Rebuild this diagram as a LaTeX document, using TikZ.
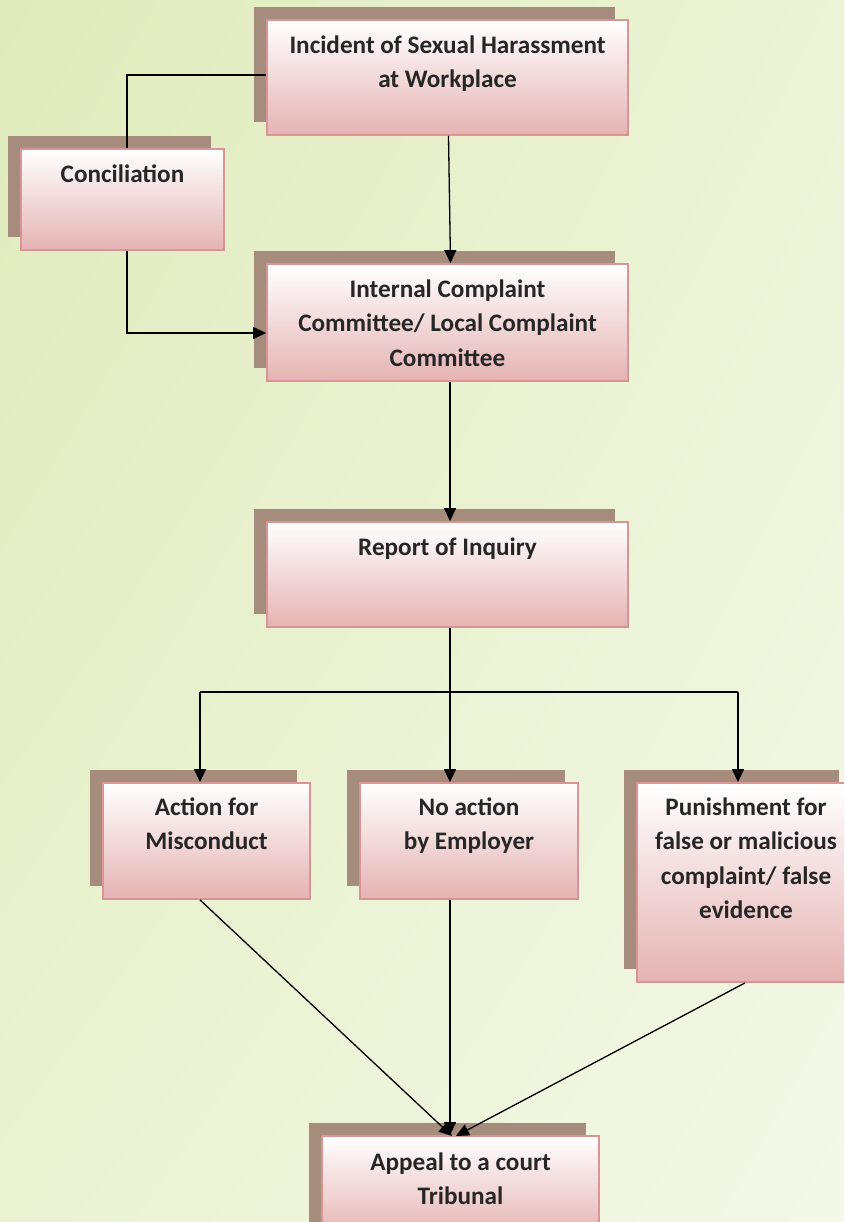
\documentclass[tikz,border=0pt]{standalone}
\usepackage{fontspec}
\setmainfont{Carlito}
\usetikzlibrary{arrows.meta,shadows,shadings}
\definecolor{bgUL}{HTML}{E0EBBB}
\definecolor{bgUR}{HTML}{ECF3D6}
\definecolor{bgLL}{HTML}{EAF2D2}
\definecolor{bgLR}{HTML}{F4F8E8}
\definecolor{boxpink}{HTML}{E5B3B3}
\definecolor{boxline}{HTML}{D99594}
\definecolor{shadowc}{HTML}{A68C7C}
\definecolor{txtc}{HTML}{262626}
\begin{document}
\begin{tikzpicture}[x=1pt,y=-1pt,
  box/.style={draw=boxline, line width=1.8pt, top color=white, bottom color=boxpink,
    inner sep=0pt, rectangle,
    general shadow={shadow xshift=-13pt, shadow yshift=13pt, fill=shadowc, draw=none, opacity=1}},
  txt/.style={font=\bfseries\fontsize{25.2}{34.5}\selectfont, text=txtc, align=center, inner sep=0pt, anchor=base},
  conn/.style={draw=black, line width=1.3pt},
  arr/.style={conn, -{Triangle[length=13pt,width=12pt]}}]
\useasboundingbox (0,0) rectangle (844,1222);
\clip (0,0) rectangle (844,1222);
\shade[upper left=bgUL, upper right=bgUR, lower left=bgLL, lower right=bgLR] (0,0) rectangle (844,1222);

% boxes
\node[box, minimum width=361pt, minimum height=115pt] (inc) at (447.5,77.5) {};
\node[box, minimum width=203pt, minimum height=101pt] (con) at (122.5,199.5) {};
\node[box, minimum width=361pt, minimum height=117pt] (icc) at (447.5,322.5) {};
\node[box, minimum width=361pt, minimum height=105pt] (rep) at (447.5,574.5) {};
\node[box, minimum width=207pt, minimum height=116pt] (act) at (206.5,841) {};
\node[box, minimum width=218pt, minimum height=116pt] (noa) at (469,841) {};
\node[box, minimum width=215pt, minimum height=199pt] (pun) at (744.5,882.5) {};
\node[box, minimum width=277pt, minimum height=100pt] (app) at (460.5,1186) {};

% texts (base anchor = baseline of last line)
\node[txt] (incT) at ([yshift=-68.5pt]inc.north) {Incident of Sexual Harassment\\at Workplace};
\node[txt] (conT) at ([yshift=-34pt]con.north) {Conciliation};
\node[txt] (iccT) at ([yshift=-103pt]icc.north) {Internal Complaint\\Committee/ Local Complaint\\Committee};
\node[txt] (repT) at ([yshift=-34pt]rep.north) {Report of Inquiry};
\node[txt] (actT) at ([yshift=-67.5pt]act.north) {Action for\\Misconduct};
\node[txt] (noaT) at ([yshift=-67.5pt]noa.north) {No action\\by Employer};
\node[txt] (punT) at ([shift={(1.5pt,-136.5pt)}]pun.north) {Punishment for\\false or malicious\\complaint/ false\\evidence};
\node[txt] (appT) at ([yshift=-69.5pt]app.north) {Appeal to a court\\Tribunal};

% connectors
\coordinate (cx) at (127,75);
\draw[conn] ([yshift=2.5pt]inc.west) -- (cx) -- (cx |- con.north);
\coordinate (cb) at (127,333);
\draw[arr] (cb |- con.south) -- (cb) -- (cb -| icc.west);
\draw[arr] ([xshift=1pt]inc.south) -- ([xshift=3pt]icc.north);
\coordinate (mx) at (450,0);
\draw[arr] (mx |- icc.south) -- (mx |- rep.north);
\coordinate (split) at (450,692);
\coordinate (lb) at (200,692);
\coordinate (rb) at (738,692);
\draw[conn] (split |- rep.south) -- (split);
\draw[conn] (lb) -- (rb);
\draw[arr] (lb) -- (lb |- act.north);
\draw[arr] (split) -- (split |- noa.north);
\draw[arr] (rb) -- (rb |- pun.north);
\coordinate (ab) at (200,0);
\coordinate (pb) at (745,0);
\coordinate (tgt) at (452,1136);
\draw[arr] (ab |- act.south) -- (tgt);
\draw[arr] (mx |- noa.south) -- (mx |- app.north);
\draw[arr] (pb |- pun.south) -- ([xshift=4pt]tgt);
\end{tikzpicture}
\end{document}
